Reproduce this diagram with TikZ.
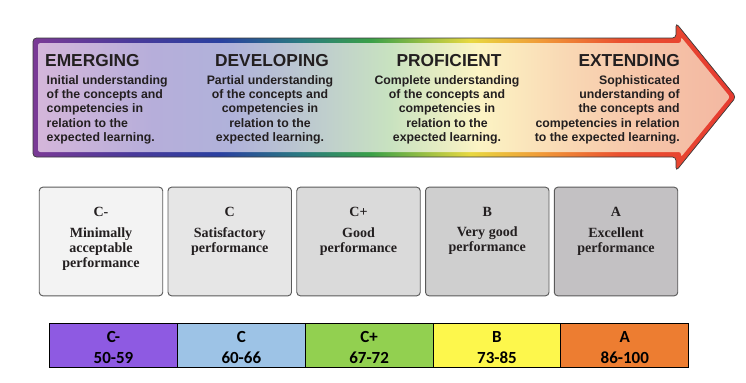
\documentclass[tikz,border=0pt]{standalone}
\usepackage{fontspec}
\setmainfont{Liberation Serif}
\setsansfont{Liberation Sans}
\newfontfamily\calibri{Carlito}
\usepackage{tikz}
\usetikzlibrary{positioning}
\newcommand{\rangestrut}{\rule{0pt}{14pt}}
\definecolor{ink}{HTML}{231F20}
\definecolor{arrowline}{HTML}{3A3A3A}
\definecolor{boxline}{HTML}{5A5A5A}
% rim of the arrow
\definecolor{rimA}{HTML}{7B3A96}
\definecolor{rimB}{HTML}{4A3A9A}
\definecolor{rimC}{HTML}{2A40A0}
\definecolor{rimD}{HTML}{2A7A80}
\definecolor{rimE}{HTML}{3AA048}
\definecolor{rimF}{HTML}{E8D840}
\definecolor{rimG}{HTML}{F09A38}
\definecolor{rimH}{HTML}{EA5030}
\definecolor{rimI}{HTML}{E63A30}
% inside of the arrow
\definecolor{inA}{HTML}{D4B6DA}
\definecolor{inB}{HTML}{B6AEDA}
\definecolor{inC}{HTML}{B0B2DA}
\definecolor{inD}{HTML}{C0D0CC}
\definecolor{inE}{HTML}{C8E2C0}
\definecolor{inF}{HTML}{FCF4C4}
\definecolor{inG}{HTML}{F9D8B4}
\definecolor{inH}{HTML}{F6C4A8}
\definecolor{inI}{HTML}{F3B8A2}
% grade boxes and range cells
\definecolor{gradeA}{HTML}{F3F3F3}
\definecolor{gradeB}{HTML}{E6E6E6}
\definecolor{gradeC}{HTML}{DADADA}
\definecolor{gradeD}{HTML}{CFCFCF}
\definecolor{gradeE}{HTML}{C3C1C3}
\definecolor{cellA}{HTML}{8E5AE2}
\definecolor{cellB}{HTML}{9DC3E6}
\definecolor{cellC}{HTML}{92D050}
\definecolor{cellD}{HTML}{FDF74C}
\definecolor{cellE}{HTML}{ED7D31}
\pgfdeclarehorizontalshading{rimshade}{100bp}{color(0bp)=(rimA); color(25bp)=(rimA); color(31.9bp)=(rimB); color(38.3bp)=(rimC); color(44bp)=(rimD); color(49bp)=(rimE); color(56.1bp)=(rimF); color(61.1bp)=(rimG); color(66.7bp)=(rimH); color(75bp)=(rimI); color(100bp)=(rimI)}
\pgfdeclarehorizontalshading{bodyshade}{100bp}{color(0bp)=(inA); color(25bp)=(inA); color(33.3bp)=(inB); color(39bp)=(inC); color(46.1bp)=(inD); color(50.4bp)=(inE); color(56.8bp)=(inF); color(63.2bp)=(inG); color(68.9bp)=(inH); color(75bp)=(inI); color(100bp)=(inI)}
\tikzset{lvltitle/.style={inner sep=0pt,text=ink,font=\sffamily\bfseries\fontsize{14.8}{17}\selectfont},
	 lvltext/.style={inner sep=0pt,text=ink,font=\sffamily\bfseries\fontsize{10.5}{12.2}\selectfont},
	 gradebox/.style={draw=boxline,line width=0.8pt,rounded corners=3pt,minimum width=105.4pt,minimum height=92.7pt},
	 gradetext/.style={inner sep=0pt,align=center,text=ink,font=\bfseries\fontsize{12}{12.8}\selectfont},
	 rangecell/.style={draw=black,line width=0.8pt,outer sep=0pt,inner sep=0pt,minimum width=109.1pt,minimum height=37.4pt,align=center,font=\calibri\bfseries\fontsize{14.5}{17.9}\selectfont},
	 node distance = 3.7pt
	 }
\begin{document}
\begin{tikzpicture}[x=0.03cm,y=-0.03cm] % levels arrow, grade boxes, score ranges
	\useasboundingbox (0,0) rectangle (746,382);
	\shadedraw[shading=rimshade,draw=arrowline,line width=0.6pt,rounded corners=3pt] (33,38) -- (676,38) -- (676,23) -- (736,97) -- (676,171) -- (676,157) -- (33,157) -- cycle;
	\shade[shading=bodyshade,rounded corners=2pt] (38,43) -- (681,43) -- (681,37) -- (730,97) -- (681,157) -- (681,152) -- (38,152) -- cycle;
	\node[lvltitle,anchor=north west] (emt) at (45,54) {EMERGING};
	\node[lvltext,anchor=north west,align=left] (emd) at (46.5,75) {Initial understanding\\of the concepts and\\competencies in\\relation to the\\expected learning.};
	\node[lvltitle,anchor=north] (dvt) at (272,54) {DEVELOPING};
	\node[lvltext,anchor=north,align=center] (dvd) at (270,75) {Partial understanding\\of the concepts and\\competencies in\\relation to the\\expected learning.};
	\node[lvltitle,anchor=north] (prt) at (449,54) {PROFICIENT};
	\node[lvltext,anchor=north,align=center] (prd) at (447,75) {Complete understanding\\of the concepts and\\competencies in\\relation to the\\expected learning.};
	\node[lvltitle,anchor=north east] (ext) at (680,54) {EXTENDING};
	\node[lvltext,anchor=north east,align=right] (exd) at (680,75) {Sophisticated\\understanding of\\the concepts and\\competencies in relation\\to the expected learning.};
	% grade boxes
	\node[gradebox,fill=gradeA] (bcm) at (101,241.5) {};
	\node[gradebox,fill=gradeB] (bc) [right= of bcm] {};
	\node[gradebox,fill=gradeC] (bcp) [right= of bc] {};
	\node[gradebox,fill=gradeD] (bb) [right= of bcp] {};
	\node[gradebox,fill=gradeE] (ba) [right= of bb] {};
	\node[gradetext] (tcm) [below=17pt of bcm.north] {C-\\[5pt]Minimally\\acceptable\\performance};
	\node[gradetext] (tc) [below=17pt of bc.north] {C\\[5pt]Satisfactory\\performance};
	\node[gradetext] (tcp) [below=17pt of bcp.north] {C+\\[5pt]Good\\performance};
	\node[gradetext] (tb) [below=17pt of bb.north] {B\\[5pt]Very good\\performance};
	\node[gradetext] (ta) [below=17pt of ba.north] {A\\[5pt]Excellent\\performance};
	% score ranges
	\node[rangecell,fill=cellA] (rcm) at (113.5,345.3) {\rangestrut C-\\50-59};
	\node[rangecell,fill=cellB] (rc) [right=0pt of rcm] {\rangestrut C\\60-66};
	\node[rangecell,fill=cellC] (rcp) [right=0pt of rc] {\rangestrut C+\\67-72};
	\node[rangecell,fill=cellD] (rb) [right=0pt of rcp] {\rangestrut B\\73-85};
	\node[rangecell,fill=cellE] (ra) [right=0pt of rb] {\rangestrut A\\86-100};
\end{tikzpicture}
\end{document}
